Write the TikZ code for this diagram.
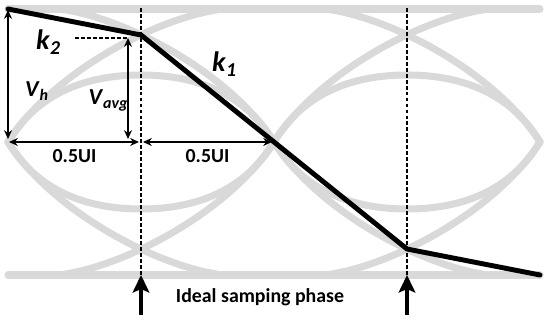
\documentclass[tikz,border=0pt]{standalone}
\usepackage{fontspec}
\setmainfont{Carlito}
\usepackage{tikz}
\usetikzlibrary{arrows.meta}
\definecolor{eyegray}{RGB}{217, 217, 217}
\newcommand{\sublbl}[2]{\textbf{\textit{#1}}\textsubscript{\textbf{\textit{#2}}}}

\begin{document}
\begin{tikzpicture}[x=0.02cm, y=0.02cm,
  eye/.style={eyegray, line width=4pt, line cap=round},
  trace/.style={black, line width=2.8pt, line cap=round, line join=round},
  dim/.style={black, line width=0.8pt, {Stealth[length=5pt,width=4.5pt]}-{Stealth[length=5pt,width=4.5pt]}},
  guide/.style={black, line width=1pt, dash pattern=on 2.2pt off 1.2pt},
  phase/.style={black, line width=1.8pt, -{Stealth[length=10pt,width=9.5pt,inset=2pt]}},
  lbl/.style={font=\fontsize{11.3}{13}\selectfont\bfseries, anchor=base, inner sep=0pt}]
  \useasboundingbox (0,0) rectangle (550,323);

  % crossings and trace corners
  \coordinate (cL) at (8,181);
  \coordinate (cM) at (274,181);
  \coordinate (cR) at (540,181);
  \coordinate (t0) at (8,314);
  \coordinate (t1) at (141,288);
  \coordinate (t3) at (407,74);
  \coordinate (t4) at (540,48);

  % eye
  \draw[eye] (8,314) -- (540,314);
  \draw[eye] (8,48) -- (540,48);
  \foreach \cx/\dir in {8/1, 274/1, 274/-1, 540/-1}
    \foreach \up in {1,-1}
      \draw[eye, shift={(\cx,181)}, xscale=\dir, yscale=\up]
        (0,0) .. controls (45,70) and (150,125) .. (215,133);
  \foreach \cx in {8,274}
    \foreach \up in {1,-1}
      \draw[eye, shift={(\cx,181)}, yscale=\up]
        (0,0) .. controls (30,50) and (80,67) .. (133,67)
              .. controls (186,67) and (236,50) .. (266,0);

  % sampling phase
  \coordinate (s1) at (141,315);
  \coordinate (s2) at (407,315);
  \coordinate (p1) at (141,48);
  \coordinate (p2) at (407,48);
  \coordinate (q1) at (141,8);
  \coordinate (q2) at (407,8);
  \draw[guide] (s1) -- (p1);
  \draw[guide] (s2) -- (p2);
  \draw[phase] (q1) -- (p1);
  \draw[phase] (q2) -- (p2);

  \draw[trace] (t0) -- (t1) -- (cM) -- (t3) -- (t4);

  % dimensions
  \coordinate (k2a) at (75,285);
  \coordinate (k2b) at (128,285);
  \draw[guide] (k2a) -- (k2b);
  \coordinate (vh0) at (8,184);
  \coordinate (vh1) at (8,313);
  \coordinate (va0) at (128,184);
  \coordinate (va1) at (128,285);
  \draw[dim] (vh0) -- (vh1);
  \draw[dim] (va0) -- (va1);
  \coordinate (u0) at (9,181);
  \coordinate (u1) at (139,181);
  \coordinate (u2) at (143,181);
  \coordinate (u3) at (272,181);
  \draw[dim] (u0) -- (u1);
  \draw[dim] (u2) -- (u3);

  % labels
  \node[lbl] (ui1) at (74.5,160) {0.5UI};
  \node[lbl] (ui2) at (207.5,160) {0.5UI};
  \node[lbl] (ideal) at (260,20) {Ideal samping phase};
  \node[lbl, font=\fontsize{16}{18}\selectfont] (k2) at (48.5,273) {\sublbl{k}{2}};
  \node[lbl, font=\fontsize{16}{18}\selectfont] (k1) at (224.5,251) {\sublbl{k}{1}};
  \node[lbl, font=\fontsize{13}{15}\selectfont] (vh) at (37,226) {\sublbl{V}{h}};
  \node[lbl, font=\fontsize{13}{15}\selectfont] (vavg) at (108.5,218) {\sublbl{V}{avg}};
\end{tikzpicture}
\end{document}
